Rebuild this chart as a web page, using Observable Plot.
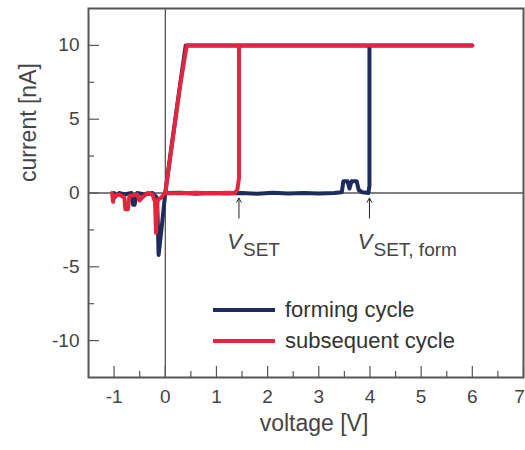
<!DOCTYPE html>
<html><head><meta charset="utf-8">
<script src="https://cdn.jsdelivr.net/npm/d3@7"></script>
<script src="https://cdn.jsdelivr.net/npm/@observablehq/plot@0.6"></script>
<style>
body{margin:0;background:#fff}
#chart{position:relative;width:525px;height:450px;font-family:"Liberation Sans",Arial,sans-serif}
#legend{position:absolute;left:213px;top:294px;color:#333;font-size:22px}
#legend .row{display:flex;align-items:center;height:31px}
#legend .sw{display:inline-block;width:62px;height:4px;margin-right:10px}
</style>
</head><body><div id="chart"></div>
<script>
// ---- data ----
const seriesNames = ["forming cycle", "subsequent cycle"];
const formingV = [0,0.3,0.6,0.9,1.2,1.5,1.8,2.1,2.4,2.7,3.0,3.3,3.45,3.48,3.56,3.6,3.64,3.74,3.78,3.85,3.97,3.99,3.99,4.5,5,5.5,6,5,4,3,2,1,0.4,0.3,0.2,0.1,0.02,0,-0.06,-0.13,-0.15,-0.17,-0.25,-0.4,-0.55,-0.6,-0.63,-0.66,-0.8,-0.9,-1.0,-1.0];
const formingI = [0,0.02,-0.05,0,-0.04,0,-0.05,0.02,-0.03,0,-0.04,0,0.05,0.8,0.8,0.3,0.8,0.8,0.2,0.05,0,0.5,10,10,10,10,10,10,10,10,10,10,10,7.6,5.1,2.6,0.5,0,-2,-4.2,-1.5,-0.3,0,-0.1,0,-0.8,-0.8,0,-0.1,0,-0.3,0];
const subsequentV = [0,0.3,0.6,0.9,1.2,1.36,1.41,1.44,1.44,2,3,4,5,6,5,4,3,2,1,0.42,0.3,0.2,0.1,0,-0.08,-0.15,-0.18,-0.2,-0.25,-0.35,-0.45,-0.5,-0.55,-0.7,-0.73,-0.78,-0.8,-0.9,-1.0,-1.02,-1.04];
const subsequentI = [0,-0.02,0.02,-0.02,0.02,0,0.25,1,10,10,10,10,10,10,10,10,10,10,10,10,7.5,5,2.5,0,-0.3,-0.5,-2.7,-0.6,-0.1,0,-0.3,-0.5,-0.1,-0.2,-1.1,-1.1,-0.3,-0.1,-0.2,-0.6,0];
const xTicks = [-1,0,1,2,3,4,5,6,7];
const xMinor = [-0.5,0.5,1.5,2.5,3.5,4.5,5.5,6.5];
const yTicks = [-10,-5,0,5,10];
const yMinor = [-7.5,-2.5,2.5,7.5];
const xTitle = "voltage [V]";
const yTitle = "current [nA]";
const annX = [1.44, 3.99];
const annSub = ["SET", "SET, form"];
const annArrowY = [-1.7, -0.35];
const annLabelY = [-3.8, -3.8];

// ---- build ----
const colors = ["#1d2c5c", "#e5243e"];
const toRows = (vs, is, name) => vs.map((v, k) => ({v, i: is[k], name}));
const forming = toRows(formingV, formingI, seriesNames[0]);
const subsequent = toRows(subsequentV, subsequentI, seriesNames[1]);
const ann = annX.map((x, k) => ({x, sub: annSub[k], ya: annArrowY[0], yb: annArrowY[1], yl: annLabelY[k]}));
const fmt = d => String(d);
const tc = "#444";

const plot = Plot.plot({
  width: 525, height: 450,
  marginLeft: 88, marginRight: 2, marginTop: 8, marginBottom: 73,
  style: {fontFamily: "'Liberation Sans', Arial, sans-serif", fontSize: "19px", color: tc, background: "#fff", overflow: "visible"},
  x: {domain: [-1.5, 7]},
  y: {domain: [-12.5, 12.5]},
  marks: [
    Plot.ruleY([0], {stroke: "#555", strokeWidth: 1.5}),
    Plot.ruleX([0], {stroke: "#222", strokeWidth: 1}),
    Plot.line(forming, {x: "v", y: "i", stroke: colors[0], strokeWidth: 4, strokeLinejoin: "round"}),
    Plot.line(subsequent, {x: "v", y: "i", stroke: colors[1], strokeWidth: 4, strokeLinejoin: "round"}),
    Plot.axisX(xTicks, {tickSize: -11, tickFormat: () => "", label: null, stroke: "#555", strokeWidth: 1.2}),
    Plot.axisX(xMinor, {tickSize: -6, tickFormat: () => "", label: null, stroke: "#555", strokeWidth: 1.2}),
    Plot.axisX(xTicks.slice(0, -1), {tickSize: 0, tickPadding: 12, tickFormat: fmt, label: null, fontSize: 19, fill: tc}),
    Plot.axisX(xTicks.slice(-1), {tickSize: 0, tickPadding: 12, tickFormat: fmt, label: null, fontSize: 19, fill: tc, dx: -4}),
    Plot.axisY(yTicks, {tickSize: -11, tickFormat: () => "", label: null, stroke: "#555", strokeWidth: 1.2}),
    Plot.axisY(yMinor, {tickSize: -6, tickFormat: () => "", label: null, stroke: "#555", strokeWidth: 1.2}),
    Plot.axisY(yTicks, {tickSize: 0, tickPadding: 9, tickFormat: fmt, label: null, fontSize: 19, fill: tc}),
    Plot.frame({stroke: "#555", strokeWidth: 2}),
    Plot.text([xTitle], {frameAnchor: "bottom", dx: 8, dy: 53, fontSize: 23, fill: tc}),
    Plot.text([yTitle], {frameAnchor: "left", rotate: -90, dx: -60, dy: -11, fontSize: 23, fill: tc}),
    Plot.arrow(ann, {x1: "x", x2: "x", y1: "ya", y2: "yb", stroke: "#222", strokeWidth: 1, headLength: 7}),
    Plot.text(ann, {x: "x", y: "yl", text: () => "V", textAnchor: "end", dx: 3, fontSize: 22, fontStyle: "italic", fill: tc, lineAnchor: "bottom"}),
    Plot.text(ann, {x: "x", y: "yl", text: "sub", textAnchor: "start", dx: 4, dy: 7, fontSize: 19, fill: tc, lineAnchor: "bottom"})
  ]
});
const chart = document.getElementById("chart");
chart.appendChild(plot);
const legend = document.createElement("div");
legend.id = "legend";
seriesNames.forEach((name, k) => {
  const row = document.createElement("div");
  row.className = "row";
  const sw = document.createElement("span");
  sw.className = "sw";
  sw.style.background = colors[k];
  const t = document.createElement("span");
  t.textContent = name;
  row.appendChild(sw); row.appendChild(t);
  legend.appendChild(row);
});
chart.appendChild(legend);
</script>
</body></html>
